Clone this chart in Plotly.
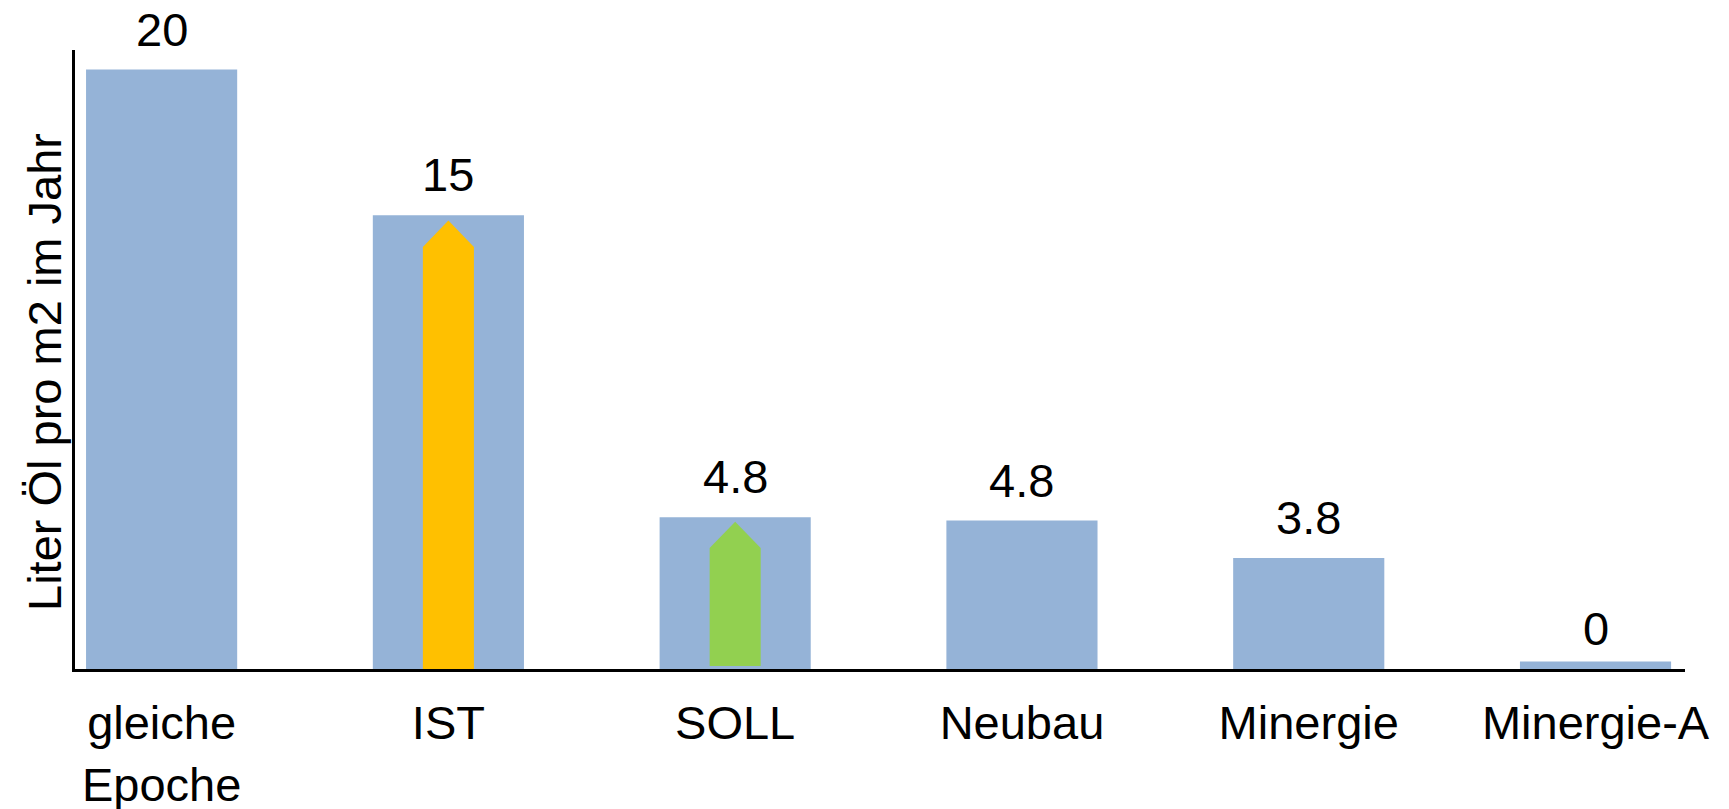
import plotly.graph_objects as go

# ---- data ----
categories = ["gleiche<br>Epoche", "IST", "SOLL", "Neubau", "Minergie", "Minergie-A"]
bar_heights = [19.95, 15.1, 5.05, 4.94, 3.69, 0.25]
value_labels = ["20", "15", "4.8", "4.8", "3.8", "0"]

arrow_index = [1, 2]
arrow_top = [14.93, 4.90]
arrow_shoulder = [14.04, 4.03]
arrow_base = [0.0, 0.1]
arrow_colors = ["#FFC000", "#92D050"]

y_title = "Liter Öl pro m2 im Jahr"

FONT = "Liberation Sans, Arial, sans-serif"
FS = 47
BAR_COLOR = "#95B3D7"
xs = list(range(len(categories)))

W, H = 1729, 809
ml, mt = 75, 50
mr = W - 1685
mb = H - 669

fig = go.Figure()
fig.add_trace(go.Bar(
    x=xs, y=bar_heights, width=0.527,
    marker=dict(color=BAR_COLOR, line=dict(width=0)),
    hoverinfo="skip", showlegend=False,
))

half_w = 0.089
for idx, top, sh, base, col in zip(arrow_index, arrow_top, arrow_shoulder, arrow_base, arrow_colors):
    px = [idx - half_w, idx - half_w, idx, idx + half_w, idx + half_w, idx - half_w]
    py = [base, sh, top, sh, base, base]
    fig.add_trace(go.Scatter(
        x=px, y=py, mode="lines", fill="toself", fillcolor=col,
        line=dict(width=0, color=col), hoverinfo="skip", showlegend=False,
    ))

for x, h, lab in zip(xs, bar_heights, value_labels):
    fig.add_annotation(x=x, y=h, text=lab, showarrow=False, xref="x", yref="y",
                       yanchor="bottom", yshift=12 if h > 1 else 4,
                       font=dict(family=FONT, size=FS, color="black"))

title_cx, title_cy = 44, 372
fig.add_annotation(
    x=(title_cx - ml) / (W - ml - mr), y=(H - mb - title_cy) / (H - mt - mb),
    xref="paper", yref="paper", text=y_title, showarrow=False, textangle=-90,
    xanchor="center", yanchor="middle",
    font=dict(family=FONT, size=FS, color="black"))

fig.update_layout(
    width=W, height=H,
    margin=dict(l=ml, r=mr, t=mt, b=mb, pad=0, autoexpand=False),
    plot_bgcolor="white", paper_bgcolor="white",
    font=dict(family=FONT, size=FS, color="black"),
    xaxis=dict(
        range=[-0.302, 5.312], tickvals=xs, ticktext=categories,
        showline=True, linecolor="black", linewidth=3, automargin=False,
        showgrid=False, zeroline=False, ticks="", ticklabelstandoff=11,
        tickfont=dict(family=FONT, size=FS, color="black"),
    ),
    yaxis=dict(
        range=[0, 20.6], showline=True, linecolor="black", linewidth=3,
        automargin=False,
        showgrid=False, zeroline=False, showticklabels=False, ticks="",
    ),
)

fig.write_html(
    "out.html",
    config={"displayModeBar": False},
    post_script="document.body.style.margin='0';document.body.style.overflow='hidden';",
)
